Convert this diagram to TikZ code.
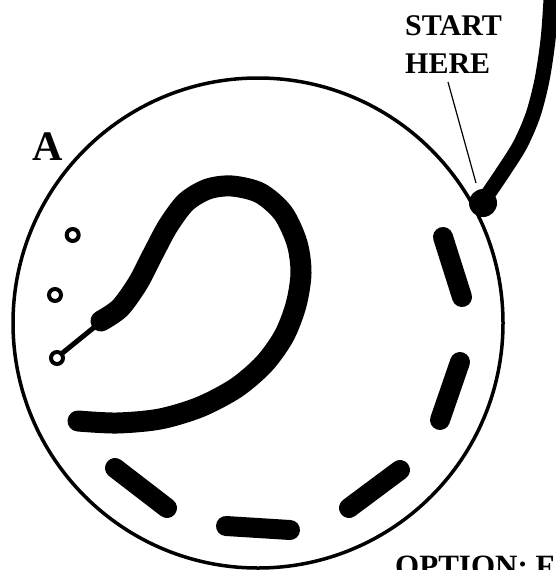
\documentclass[tikz,border=0pt]{standalone}
\usepackage{fontspec}
\setmainfont{Liberation Serif}
\begin{document}
\begin{tikzpicture}[x=1pt,y=-1pt,
  rim/.style={line width=3.5pt},
  band/.style={line width=21pt,line cap=round,line join=round},
  outband/.style={line width=15pt,line cap=round},
  dashbar/.style={line width=20pt,line cap=round},
  hole/.style={line width=4pt},
  lbl/.style={font=\bfseries\fontsize{30}{36}\selectfont,inner sep=0pt,anchor=base west}]
\useasboundingbox (0,0) rectangle (555,570);
% main circle
\draw[rim] (258,323) circle[radius=245];
% outside thick curve from the start point
\draw[outband] plot[smooth] coordinates {(484,200) (503,172) (520,145) (533,115) (542,80) (548,40) (551,0) (552,-20)};
\fill (483,203) circle[radius=14];
% leader line
\draw[line width=1.2pt] (448,82) -- (476,183);
% dashes
\draw[dashbar] (443,237) -- (462,297);
\draw[dashbar] (460,362) -- (440,420);
\draw[dashbar] (400,470) -- (349,508);
\draw[dashbar] (290,530) -- (226,526);
\draw[dashbar] (167,508) -- (115,468);
% main curve inside
\draw[band] plot[smooth] coordinates {(101,321) (120,308) (138,283) (153,254) (168,226) (186,202) (208,189) (232,186) (260,193) (283,213) (297,243) (301,273) (296,305) (284,336) (264,364) (236,388) (200,407) (160,419) (117,423) (78,421)};
% thin tail
\draw[line width=5pt] (97,325) -- (60,355);
% small holes
\draw[hole] (72.7,235) circle[radius=6];
\draw[hole] (55,295) circle[radius=6];
\draw[hole] (57,358) circle[radius=6];
% labels
\node[lbl] (s1) at (405,35) {START};
\node[lbl] (s2) at (405,73) {HERE};
\node[lbl,font=\bfseries\fontsize{42}{48}\selectfont] (a) at (32,160) {A};
\node[lbl,font=\bfseries\fontsize{31}{36}\selectfont] (opt) at (395,576) {OPTION: F};
\end{tikzpicture}
\end{document}
